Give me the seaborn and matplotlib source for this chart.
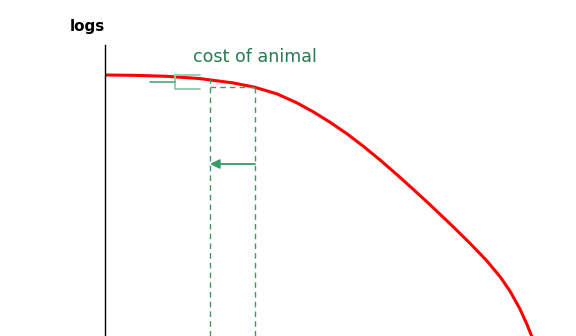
import matplotlib
matplotlib.use("Agg")
import matplotlib.pyplot as plt
import seaborn as sns
import pandas as pd

sns.set_style("white")
plt.rcParams['font.family'] = ['DejaVu Sans']

# curve (production possibility style), data units
curve_x = [0, 28, 62, 95, 128, 150, 172, 192, 208, 225, 242, 258, 275, 292, 308,
           325, 348, 365, 382, 395, 405, 415, 422, 427, 431]
curve_y = [261, 260.7, 259.7, 257.4, 253.1, 248.7, 242.1, 233.1, 224.3, 213.8, 202.2, 190.0,
           176.1, 161.3, 146.9, 131.3, 109.4, 92.7, 75.0, 59.4, 44.9, 26.9, 11.5, -1.0, -12.2]

# reference lines
x_before = 105
y_before = 256.9
x_after = 150
y_after = 248.7
arrow_y = 172

y_label = "logs"
annot_text = "cost of animal"

fig = plt.figure(figsize=(5.76, 3.36), dpi=100)
ax = fig.add_axes([105/576, 0, 471/576, 291/336])

df = pd.DataFrame({"x": curve_x, "y": curve_y})
sns.lineplot(data=df, x="x", y="y", sort=False, ax=ax, color="#ff0000", linewidth=2.2,
             estimator=None, solid_joinstyle="round", solid_capstyle="round")

dash_col = "#3a9a6a"
ax.plot([x_before, x_before], [0, y_before], ls=(0, (4, 3)), color=dash_col, lw=1)
ax.plot([x_after, x_after], [0, y_after], ls=(0, (4, 3)), color=dash_col, lw=1)
ax.plot([x_before, x_after], [y_after, y_after], ls=(0, (4, 3)), color=dash_col, lw=1)

ax.annotate("", xy=(x_before, arrow_y), xytext=(x_after, arrow_y),
            arrowprops=dict(arrowstyle="-|>", color=dash_col, lw=1.3, mutation_scale=14,
                            shrinkA=0, shrinkB=0))

# bracket
br_col = "#8fcca8"
ax.plot([70, 95], [261, 261], color=br_col, lw=1.3)
ax.plot([70, 70], [247, 261], color=br_col, lw=1.3)
ax.plot([70, 95], [247, 247], color=br_col, lw=1.3)
ax.plot([45, 70], [254, 254], color="#3da070", lw=1.1)

ax.text(88, 279, annot_text, color="#2a7a55", fontsize=12.6, va="center", ha="left", clip_on=False)
ax.text(-18, 309, y_label, color="black", fontsize=11, fontweight="bold", va="center", ha="center", clip_on=False)

ax.set_xlim(0, 471)
ax.set_ylim(0, 291)
for s in ["top", "right", "bottom"]:
    ax.spines[s].set_visible(False)
ax.spines["left"].set_color("black")
ax.spines["left"].set_linewidth(1)
ax.set_xticks([])
ax.set_yticks([])
ax.set_xlabel("")
ax.set_ylabel("")
ax.patch.set_alpha(0)

fig.savefig("out.png", dpi=100)
